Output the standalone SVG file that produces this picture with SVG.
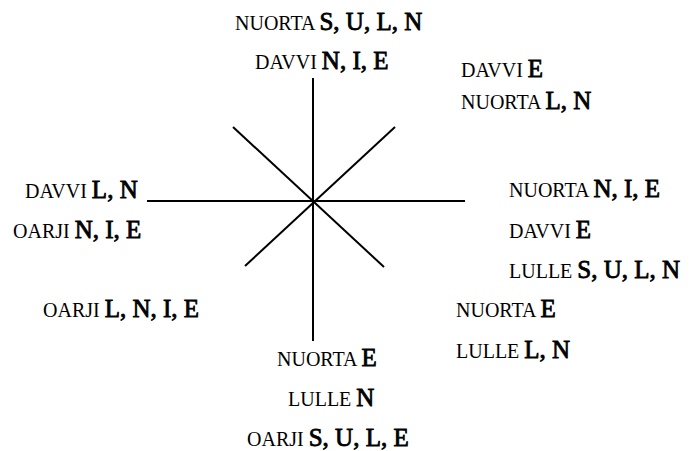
<svg xmlns="http://www.w3.org/2000/svg" width="696" height="451" viewBox="0 0 696 451">
<defs>
<style>
.ln{stroke:#000;stroke-width:2;fill:none}
</style>
</defs>
<rect width="696" height="451" fill="#fff"/>
<g id="connectors">
<line class="ln" x1="313" y1="78" x2="313" y2="341"/>
<line class="ln" x1="147" y1="201" x2="465" y2="201"/>
<line class="ln" x1="233" y1="127" x2="384" y2="267"/>
<line class="ln" x1="395" y1="127" x2="245" y2="266"/>
</g>
<g id="north" font-family="Liberation Serif" fill="#000">
<text x="235" y="30" font-size="20" font-family="Liberation Serif">NUORTA <tspan font-family="Liberation Serif" font-size="25" stroke="#000" stroke-width="0.8">S, U, L, N</tspan></text>
<text x="255" y="69" font-size="20" font-family="Liberation Serif">DAVVI <tspan font-family="Liberation Serif" font-size="25" stroke="#000" stroke-width="0.8">N, I, E</tspan></text>
</g>
<g id="northeast" font-family="Liberation Serif" fill="#000">
<text x="461" y="77" font-size="20" font-family="Liberation Serif">DAVVI <tspan font-family="Liberation Serif" font-size="25" stroke="#000" stroke-width="0.8">E</tspan></text>
<text x="461" y="109" font-size="20" font-family="Liberation Serif">NUORTA <tspan font-family="Liberation Serif" font-size="25" stroke="#000" stroke-width="0.8">L, N</tspan></text>
</g>
<g id="west" font-family="Liberation Serif" fill="#000">
<text x="25" y="198" font-size="20" font-family="Liberation Serif">DAVVI <tspan font-family="Liberation Serif" font-size="25" stroke="#000" stroke-width="0.8">L, N</tspan></text>
<text x="13" y="238" font-size="20" font-family="Liberation Serif">OARJI <tspan font-family="Liberation Serif" font-size="25" stroke="#000" stroke-width="0.8">N, I, E</tspan></text>
</g>
<g id="east" font-family="Liberation Serif" fill="#000">
<text x="509" y="197" font-size="20" font-family="Liberation Serif">NUORTA <tspan font-family="Liberation Serif" font-size="25" stroke="#000" stroke-width="0.8">N, I, E</tspan></text>
<text x="509" y="238" font-size="20" font-family="Liberation Serif">DAVVI <tspan font-family="Liberation Serif" font-size="25" stroke="#000" stroke-width="0.8">E</tspan></text>
<text x="509" y="278" font-size="20" font-family="Liberation Serif">LULLE <tspan font-family="Liberation Serif" font-size="25" stroke="#000" stroke-width="0.8">S, U, L, N</tspan></text>
</g>
<g id="southeast" font-family="Liberation Serif" fill="#000">
<text x="456" y="317" font-size="20" font-family="Liberation Serif">NUORTA <tspan font-family="Liberation Serif" font-size="25" stroke="#000" stroke-width="0.8">E</tspan></text>
<text x="456" y="358" font-size="20" font-family="Liberation Serif">LULLE <tspan font-family="Liberation Serif" font-size="25" stroke="#000" stroke-width="0.8">L, N</tspan></text>
</g>
<g id="southwest" font-family="Liberation Serif" fill="#000">
<text x="43" y="317" font-size="20" font-family="Liberation Serif">OARJI <tspan font-family="Liberation Serif" font-size="25" stroke="#000" stroke-width="0.8">L, N, I, E</tspan></text>
</g>
<g id="south" font-family="Liberation Serif" fill="#000">
<text x="277" y="366" font-size="20" font-family="Liberation Serif">NUORTA <tspan font-family="Liberation Serif" font-size="25" stroke="#000" stroke-width="0.8">E</tspan></text>
<text x="288" y="406" font-size="20" font-family="Liberation Serif">LULLE <tspan font-family="Liberation Serif" font-size="25" stroke="#000" stroke-width="0.8">N</tspan></text>
<text x="247" y="446" font-size="20" font-family="Liberation Serif">OARJI <tspan font-family="Liberation Serif" font-size="25" stroke="#000" stroke-width="0.8">S, U, L, E</tspan></text>
</g>
</svg>
